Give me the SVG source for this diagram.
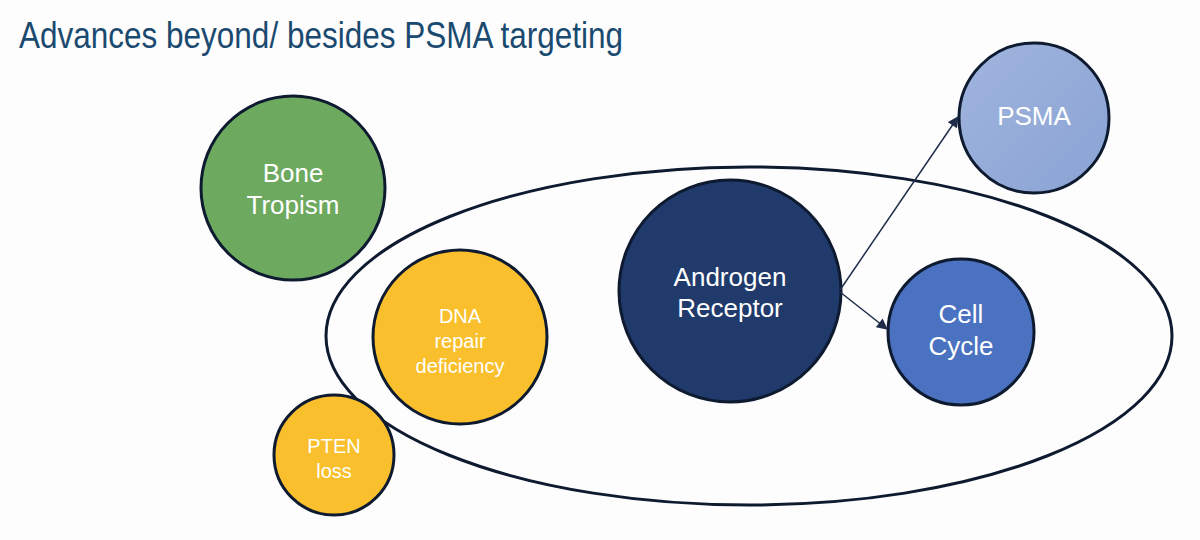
<svg xmlns="http://www.w3.org/2000/svg" width="1200" height="540" viewBox="0 0 1200 540">
<defs>
<style>
.node{stroke:#0e1a30;stroke-width:3}
.lbl{font-family:"Liberation Sans",Arial,sans-serif;fill:#ffffff;text-anchor:middle}
.big{font-size:26px}
.small{font-size:20px}
.conn{stroke:#1f2d4a;stroke-width:1.5;fill:none}
</style>
<marker id="ah" viewBox="0 0 10 10" refX="9" refY="5" markerWidth="12" markerHeight="11" markerUnits="userSpaceOnUse" orient="auto">
<path d="M0,0 L10,5 L0,10 Z" fill="#1f2d4a"/>
</marker>
<linearGradient id="psmaG" x1="0" y1="0" x2="1" y2="1">
<stop offset="0" stop-color="#a0b5de"/>
<stop offset="1" stop-color="#8aa3d4"/>
</linearGradient>
</defs>
<rect width="1200" height="540" fill="#fdfdfd"/>
<text x="19" y="48" font-family="'Liberation Sans',Arial,sans-serif" font-size="36" fill="#1b4a70" textLength="604" lengthAdjust="spacingAndGlyphs">Advances beyond/ besides PSMA targeting</text>
<g id="ellipse-group">
<ellipse cx="749" cy="336" rx="423" ry="169" fill="none" stroke="#0e1a30" stroke-width="3"/>
</g>
<g id="bone">
<circle class="node" cx="293" cy="188" r="92" fill="#6da95f"/>
<text class="lbl big" x="293" y="182">Bone</text>
<text class="lbl big" x="293" y="214">Tropism</text>
</g>
<g id="dna">
<circle class="node" cx="460" cy="337" r="87" fill="#f9bf2c"/>
<text class="lbl small" x="460" y="323">DNA</text>
<text class="lbl small" x="460" y="348">repair</text>
<text class="lbl small" x="460" y="373">deficiency</text>
</g>
<g id="pten">
<circle class="node" cx="334" cy="455" r="60" fill="#f9bf2c"/>
<text class="lbl small" x="334" y="453">PTEN</text>
<text class="lbl small" x="334" y="478">loss</text>
</g>
<g id="androgen">
<circle class="node" cx="730" cy="291" r="111" fill="#1f3a6b"/>
<text class="lbl big" x="730" y="286">Androgen</text>
<text class="lbl big" x="730" y="317">Receptor</text>
</g>
<g id="psma">
<circle class="node" cx="1034" cy="118" r="75" fill="url(#psmaG)"/>
<text class="lbl big" x="1034" y="125">PSMA</text>
</g>
<g id="cellcycle">
<circle class="node" cx="961" cy="332" r="73" fill="#4a72c0"/>
<text class="lbl big" x="961" y="323">Cell</text>
<text class="lbl big" x="961" y="355">Cycle</text>
</g>
<g id="connectors">
<line class="conn" x1="840" y1="290" x2="958" y2="117" marker-end="url(#ah)"/>
<line class="conn" x1="840" y1="292" x2="887" y2="329" marker-end="url(#ah)"/>
</g>
</svg>
